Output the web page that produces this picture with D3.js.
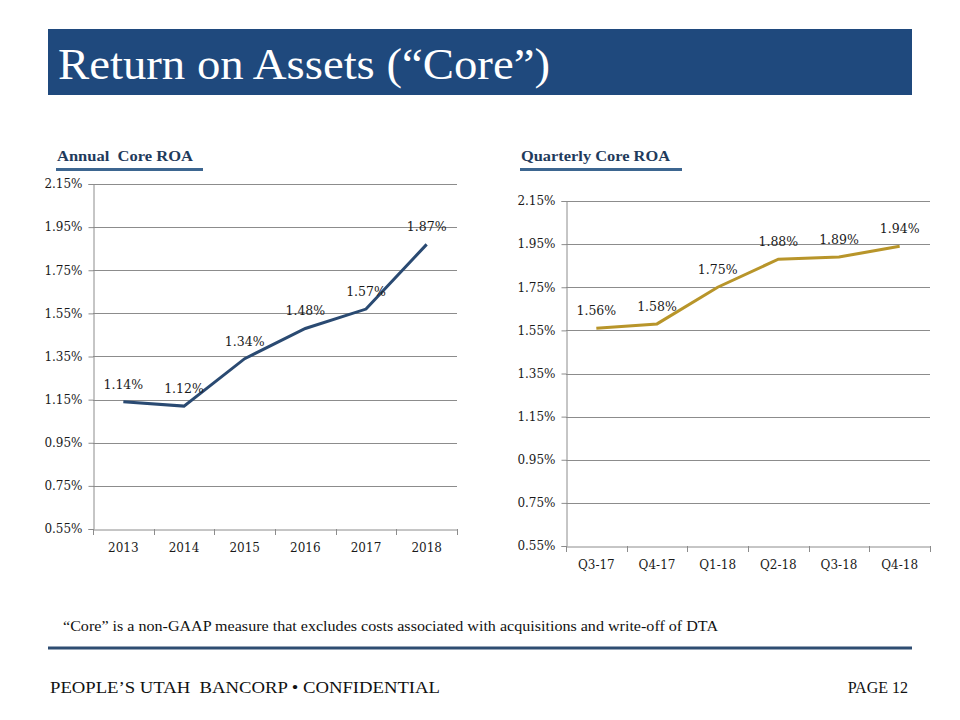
<!DOCTYPE html>
<html>
<head>
<meta charset="utf-8">
<script src="https://cdn.jsdelivr.net/npm/d3@7"></script>
<style>
  html, body { margin: 0; padding: 0; background: #fff; }
  svg { display: block; }
  text { white-space: pre; }
</style>
</head>
<body>
<svg id="chart" width="960" height="720"></svg>
<script>
// ---- data ----
const annualYears = ["2013", "2014", "2015", "2016", "2017", "2018"];
const annualROA = [1.14, 1.12, 1.34, 1.48, 1.57, 1.87];
const quarters = ["Q3-17", "Q4-17", "Q1-18", "Q2-18", "Q3-18", "Q4-18"];
const quarterlyROA = [1.56, 1.58, 1.75, 1.88, 1.89, 1.94];
const yTicks = [0.55, 0.75, 0.95, 1.15, 1.35, 1.55, 1.75, 1.95, 2.15];

const svg = d3.select("#chart");
const serif = "'Liberation Serif', 'DejaVu Serif', serif";
const tickFont = "'DejaVu Serif', serif";

// ---- header banner ----
svg.append("rect").attr("x", 48).attr("y", 29).attr("width", 864).attr("height", 66)
  .attr("fill", "#1F497D");
svg.append("text").attr("x", 58).attr("y", 79)
  .attr("font-family", serif).attr("font-size", 45).attr("fill", "#fff")
  .attr("textLength", 492).attr("lengthAdjust", "spacingAndGlyphs")
  .text("Return on Assets (“Core”)");

// ---- chart function ----
function drawChart(opts) {
  const { x0, x1, yTop, yBot, cats, vals, color, title, titleX, titleW, ulX0, ulX1 } = opts;
  const g = svg.append("g");

  // section title + underline
  g.append("text").attr("x", titleX).attr("y", 161)
    .attr("font-family", serif).attr("font-weight", "bold").attr("font-size", 15.5)
    .attr("fill", "#1f3b5c")
    .attr("textLength", titleW).attr("lengthAdjust", "spacingAndGlyphs")
    .text(title);
  g.append("line").attr("x1", ulX0).attr("x2", ulX1).attr("y1", 169.5).attr("y2", 169.5)
    .attr("stroke", "#3d6690").attr("stroke-width", 3);

  const x = d3.scaleBand().domain(cats).range([x0, x1]);
  const y = d3.scaleLinear().domain([0.55, 2.15]).range([yBot, yTop]);

  // gridlines
  g.append("g").selectAll("line").data(yTicks.slice(1)).join("line")
    .attr("x1", x0).attr("x2", x1)
    .attr("y1", d => Math.round(y(d)) + 0.5).attr("y2", d => Math.round(y(d)) + 0.5)
    .attr("stroke", "#8c8c8c").attr("stroke-width", 1);

  // y axis
  const yAxis = g.append("g").attr("transform", `translate(${Math.round(x0) + 0.5},0)`)
    .call(d3.axisLeft(y).tickValues(yTicks).tickSize(5).tickPadding(6)
      .tickFormat(d => d.toFixed(2) + "%"));
  yAxis.select(".domain").attr("stroke", "#8c8c8c");
  yAxis.selectAll(".tick line").attr("stroke", "#8c8c8c");
  yAxis.selectAll(".tick text").attr("font-family", tickFont).attr("font-size", 12).attr("fill", "#1a1a1a");

  // x axis
  const xAxis = g.append("g").attr("transform", `translate(0,${Math.round(yBot) + 0.5})`)
    .call(d3.axisBottom(x).tickSize(0).tickPadding(14));
  xAxis.select(".domain").attr("stroke", "#8c8c8c");
  xAxis.selectAll(".tick text").attr("font-family", tickFont).attr("font-size", 12).attr("fill", "#1a1a1a");
  // tick marks at band boundaries
  const bounds = cats.map(c => x(c)).concat([x1]);
  g.append("g").selectAll("line").data(bounds).join("line")
    .attr("x1", d => Math.round(d) + 0.5).attr("x2", d => Math.round(d) + 0.5)
    .attr("y1", yBot).attr("y2", yBot + 6)
    .attr("stroke", "#8c8c8c");

  // line
  const line = d3.line().x((d, i) => x(cats[i]) + x.bandwidth() / 2).y(d => y(d));
  g.append("path").datum(vals).attr("d", line)
    .attr("fill", "none").attr("stroke", color).attr("stroke-width", 3)
    .attr("stroke-linejoin", "miter");

  // labels
  g.append("g").selectAll("text").data(vals).join("text")
    .attr("x", (d, i) => x(cats[i]) + x.bandwidth() / 2)
    .attr("y", d => y(d) - 13)
    .attr("text-anchor", "middle")
    .attr("font-family", tickFont).attr("font-size", 12.5).attr("fill", "#1a1a1a")
    .text(d => d.toFixed(2) + "%");
}

drawChart({
  x0: 93, x1: 457, yTop: 184, yBot: 529,
  cats: annualYears, vals: annualROA, color: "#2a4a72",
  title: "Annual  Core ROA", titleX: 57, titleW: 136, ulX0: 56, ulX1: 203
});
drawChart({
  x0: 566, x1: 930, yTop: 201, yBot: 546,
  cats: quarters, vals: quarterlyROA, color: "#b8952a",
  title: "Quarterly Core ROA", titleX: 521, titleW: 149, ulX0: 520, ulX1: 682
});

// ---- footnote & footer ----
svg.append("text").attr("x", 63).attr("y", 631)
  .attr("font-family", serif).attr("font-size", 14).attr("fill", "#111")
  .attr("textLength", 655).attr("lengthAdjust", "spacingAndGlyphs")
  .text("“Core” is a non-GAAP measure that excludes costs associated with acquisitions and write-off of DTA");
svg.append("line").attr("x1", 48).attr("x2", 912).attr("y1", 648).attr("y2", 648)
  .attr("stroke", "#2e4d72").attr("stroke-width", 3);
svg.append("text").attr("x", 50).attr("y", 693)
  .attr("font-family", serif).attr("font-size", 16).attr("fill", "#111")
  .attr("textLength", 390).attr("lengthAdjust", "spacingAndGlyphs")
  .text("PEOPLE’S UTAH  BANCORP • CONFIDENTIAL");
svg.append("text").attr("x", 908).attr("y", 693).attr("text-anchor", "end")
  .attr("font-family", serif).attr("font-size", 16).attr("fill", "#111")
  .text("PAGE 12");
</script>
</body>
</html>
